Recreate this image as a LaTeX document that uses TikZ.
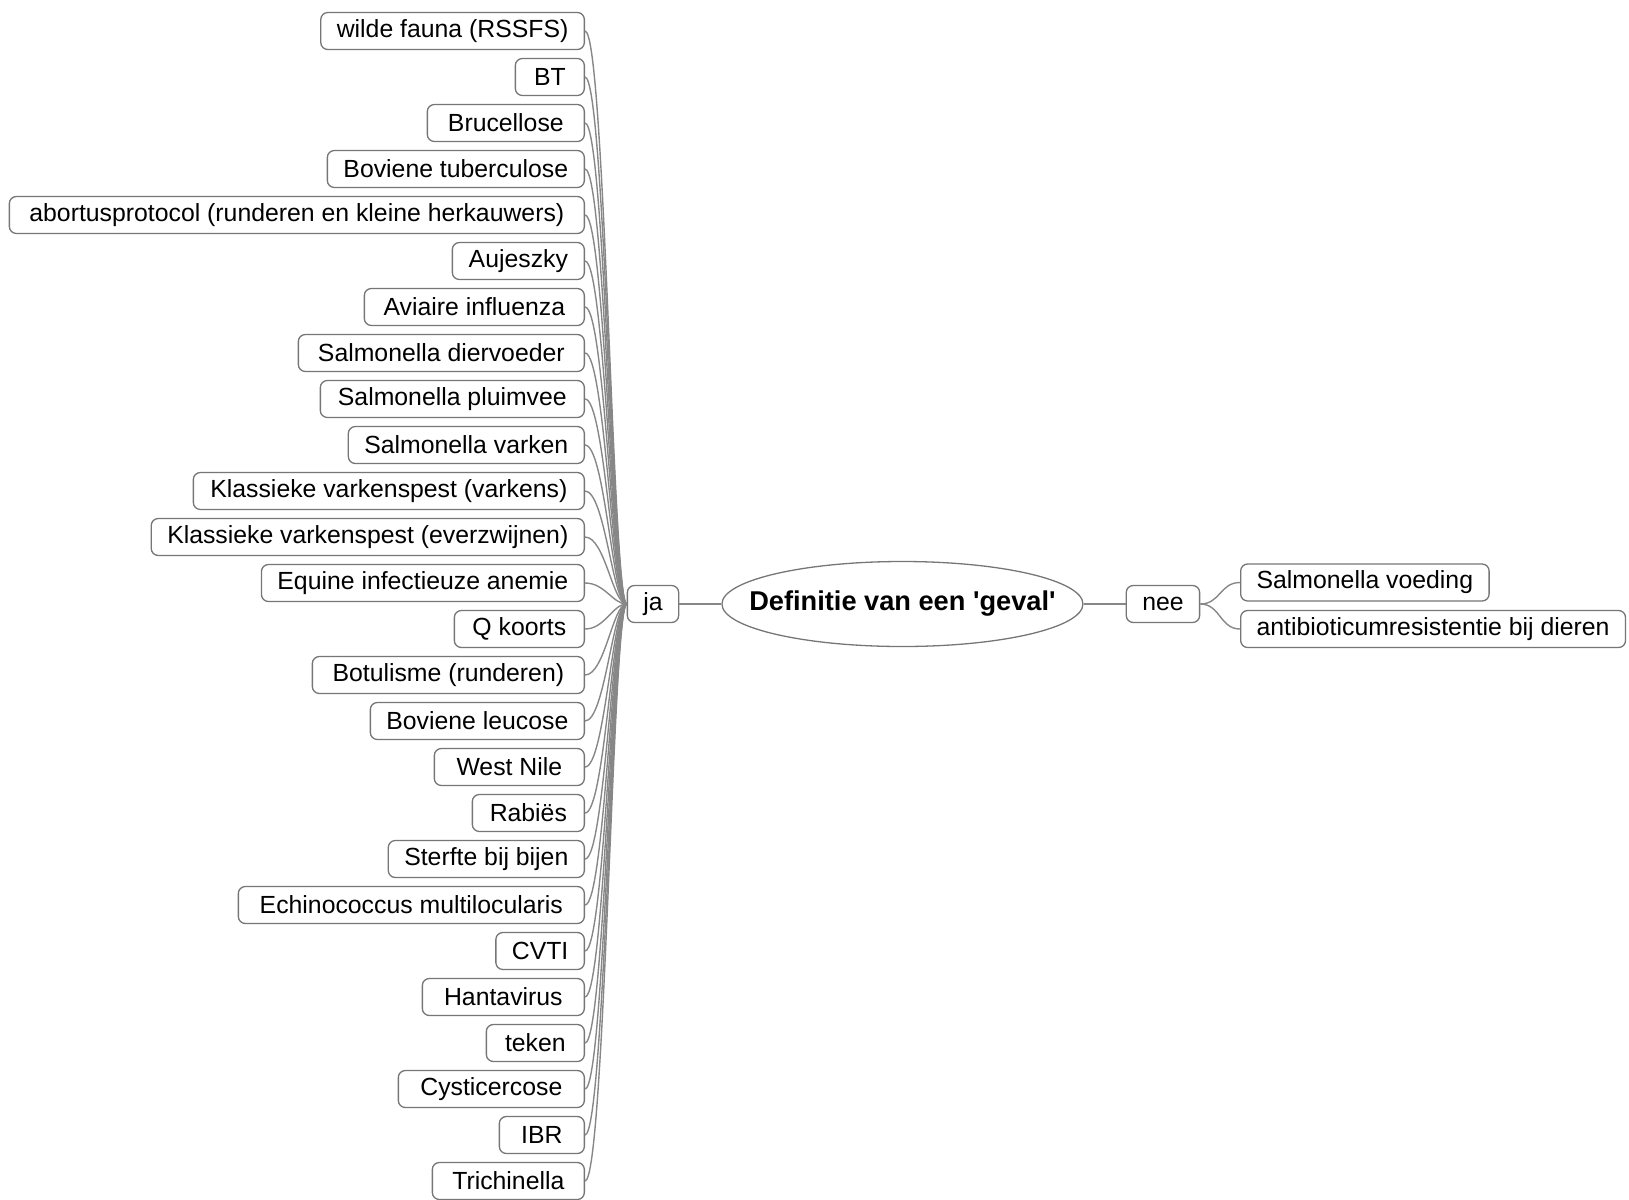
\documentclass[tikz,border=0pt]{standalone}
\usepackage{fontspec}
\setmainfont{Liberation Sans}
\usepackage{tikz}
\usetikzlibrary{positioning, shapes.geometric}
\definecolor{boxline}{RGB}{118,118,118}
\definecolor{linkline}{RGB}{135,135,135}

\begin{document}
\begin{tikzpicture}[
  x=0.5pt, y=-0.5pt,
  font=\fontsize{12.4}{14}\selectfont,
  topic/.style={draw=boxline, line width=0.65pt, rounded corners=3.5pt, fill=white, minimum height=18.5pt, inner xsep=8pt, inner ysep=0pt},
  central/.style={draw=boxline, line width=0.65pt, ellipse, minimum width=180.5pt, minimum height=42.5pt, inner xsep=-13pt, inner ysep=0pt, font=\fontsize{13.6}{16}\selectfont\bfseries},
  link/.style={draw=linkline, line width=0.7pt},
]
\useasboundingbox (0,0) rectangle (1629,1200);

\node[topic] (ja) at (653,604) {ja};
\node[central, right=21pt of ja] (def) {Definitie van een \textquotesingle geval\textquotesingle};
\node[topic, right=21pt of def] (nee) {nee};
\node[topic, anchor=west] (salv) at (1240,582.5) {Salmonella voeding};
\node[topic, anchor=west] (abr) at (1240,629) {antibioticumresistentie bij dieren};

\draw[link] (ja) -- (def);
\draw[link] (def) -- (nee);
\draw[link] (nee.east) .. controls +(20,0) and +(-20,0) .. (salv.west);
\draw[link] (nee.east) .. controls +(20,0) and +(-20,0) .. (abr.west);

% ja-tak: ziektes
\foreach \txt/\w [count=\i from 0] in {
  {wilde fauna (RSSFS)}/260, {BT}/69, {Brucellose}/157, {Boviene tuberculose}/257,
  {abortusprotocol (runderen en kleine herkauwers)}/575, {Aujeszky}/132,
  {Aviaire influenza}/220, {Salmonella diervoeder}/286, {Salmonella pluimvee}/264,
  {Salmonella varken}/236, {Klassieke varkenspest (varkens)}/391,
  {Klassieke varkenspest (everzwijnen)}/432, {Equine infectieuze anemie}/321,
  {Q koorts}/130, {Botulisme (runderen)}/272, {Boviene leucose}/214,
  {West Nile}/150, {Rabiës}/112, {Sterfte bij bijen}/193,
  {Echinococcus multilocularis}/346, {CVTI}/84, {Hantavirus}/162,
  {teken}/98, {Cysticercose}/186, {IBR}/85, {Trichinella}/152}{
  \node[topic, anchor=east, minimum width=\w*0.5pt] (ja\i) at (585,31+46*\i) {\txt};
  \draw[link] (ja\i.east) .. controls +(20,0) and +(-14,0) .. (ja.west);
}
\end{tikzpicture}
\end{document}
